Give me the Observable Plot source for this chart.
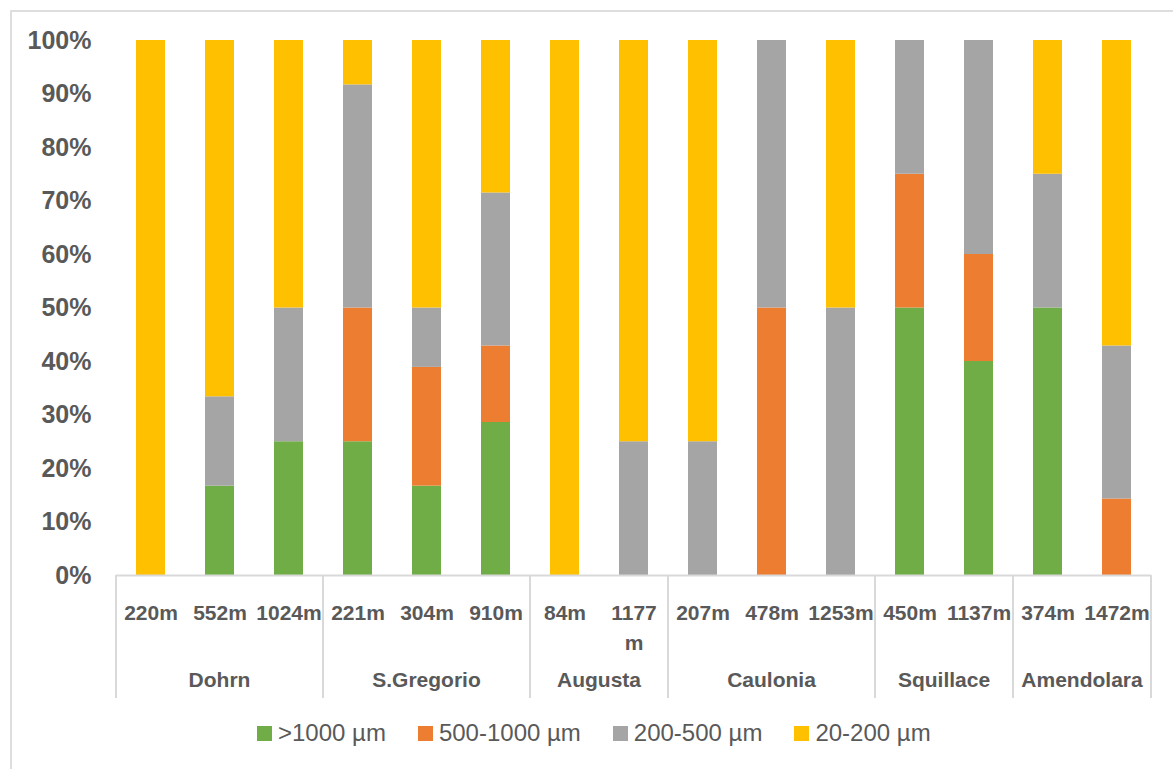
<!DOCTYPE html>
<html>
<head>
<meta charset="utf-8">
<script src="https://cdn.jsdelivr.net/npm/d3@7"></script>
<script src="https://cdn.jsdelivr.net/npm/@observablehq/plot@0.6"></script>
<style>
  body { margin: 0; background: #fff; font-family: "Liberation Sans", Arial, sans-serif; }
  #wrap { position: relative; width: 1173px; height: 769px; overflow: hidden; background: #fff; }
  #frame { position: absolute; left: 10px; top: 10px; width: 1300px; height: 900px;
           border-left: 2px solid #DEDEDE; border-top: 2px solid #DEDEDE; }
  #chart { position: absolute; left: 0; top: 0; }
  #legend { position: absolute; left: 257px; top: 719px; display: flex; align-items: center;
            font-size: 24px; color: #595959; white-space: nowrap; }
  .item { display: flex; align-items: center; margin-right: 32px; }
  .sw { width: 15px; height: 15px; margin-right: 6px; }
</style>
</head>
<body>
<div id="wrap">
  <div id="frame"></div>
  <div id="chart"></div>
  <div id="legend"></div>
</div>
<script>
// ---- data ----
const sites  = ["Dohrn","Dohrn","Dohrn","S.Gregorio","S.Gregorio","S.Gregorio","Augusta","Augusta",
                "Caulonia","Caulonia","Caulonia","Squillace","Squillace","Amendolara","Amendolara"];
const depths = ["220m","552m","1024m","221m","304m","910m","84m","1177m",
                "207m","478m","1253m","450m","1137m","374m","1472m"];
const classes = [">1000 µm", "500-1000 µm", "200-500 µm", "20-200 µm"];
const colors  = ["#70AD47", "#ED7D31", "#A5A5A5", "#FFC000"];
const gt1000  = [0, 16.7, 25, 25,   16.7, 28.6, 0,   0,  0,  0,  0, 50, 40, 50, 0];
const s500    = [0, 0,    0,  25,   22.2, 14.3, 0,   0,  0,  50, 0, 25, 20, 0,  14.3];
const s200    = [0, 16.7, 25, 41.7, 11.1, 28.6, 0,   25, 25, 50, 50, 25, 40, 25, 28.6];
const s20     = [100, 66.6, 50, 8.3, 50, 28.5, 100, 75, 75, 0, 50, 0, 0, 25, 57.1];
const yTicks  = [0, 10, 20, 30, 40, 50, 60, 70, 80, 90, 100];

const series = [gt1000, s500, s200, s20];
const rows = [];
depths.forEach((d, i) => {
  classes.forEach((c, k) => rows.push({depth: d, site: sites[i], cls: c, value: series[k][i]}));
});

const W = 1173, H = 705, ML = 116, MR = 22, MT = 40, MB = 130;

const chart = Plot.plot({
  width: W, height: H,
  marginLeft: ML, marginRight: MR, marginTop: MT, marginBottom: MB,
  style: {fontFamily: '"Liberation Sans", Arial, sans-serif', color: "#595959", fontWeight: "bold", background: "transparent"},
  x: {domain: depths, padding: 0, axis: null, label: null},
  y: {domain: [0, 100], axis: null, label: null},
  color: {domain: classes, range: colors},
  marks: [
    Plot.barY(rows, {x: "depth", y: "value", fill: "cls", insetLeft: 20, insetRight: 20}),
    Plot.ruleY([0], {stroke: "#D9D9D9", strokeWidth: 2}),
    Plot.axisY({ticks: yTicks, tickSize: 0, tickPadding: 25, fontSize: 25, label: null,
                tickFormat: d => d + "%"}),
    Plot.axisX({tickSize: 0, tickPadding: 24, fontSize: 21, lineHeight: 1.4, label: null,
                tickFormat: d => d === "1177m" ? "1177\nm" : d})
  ]
});
document.getElementById("chart").appendChild(chart);

// ---- grouped category axis (dividers + site names) ----
const xs = chart.scale("x");
const ys = chart.scale("y");
const y0 = ys.apply(0);
const step = xs.step;
const groupNames = Array.from(new Set(sites));
const g = d3.select(chart).append("g");
const bounds = [];
groupNames.forEach(name => {
  const members = depths.filter((d, i) => sites[i] === name);
  const start = xs.apply(members[0]);
  const end = xs.apply(members[members.length - 1]) + step;
  bounds.push(start);
  g.append("text")
    .attr("x", (start + end) / 2)
    .attr("y", y0 + 106)
    .attr("text-anchor", "middle")
    .attr("dominant-baseline", "middle")
    .attr("font-size", 21)
    .attr("font-weight", "bold")
    .attr("fill", "#595959")
    .text(name);
});
bounds.push(xs.apply(depths[depths.length - 1]) + step);
bounds.forEach(b => {
  g.append("line")
    .attr("x1", b).attr("x2", b)
    .attr("y1", y0).attr("y2", y0 + 123)
    .attr("stroke", "#D9D9D9").attr("stroke-width", 2);
});

// ---- legend ----
const leg = d3.select("#legend");
classes.forEach((c, k) => {
  const it = leg.append("div").attr("class", "item");
  it.append("div").attr("class", "sw").style("background", colors[k]);
  it.append("span").text(c);
});
</script>
</body>
</html>
